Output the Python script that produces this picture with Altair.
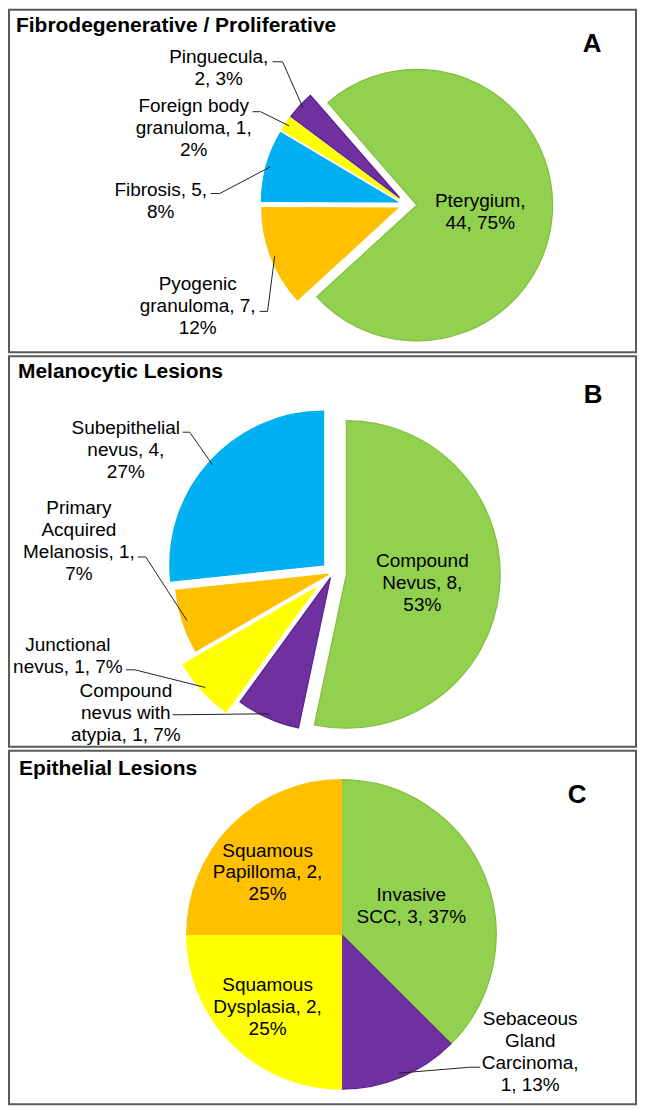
import altair as alt
import pandas as pd

# ---------------- data ----------------
a_categories = ["Pterygium", "Pyogenic granuloma", "Fibrosis", "Foreign body granuloma", "Pinguecula"]
a_counts = [44, 7, 5, 1, 2]
a_labels = ["Pterygium,\n44, 75%", "Pyogenic\ngranuloma, 7,\n12%", "Fibrosis, 5,\n8%",
            "Foreign body\ngranuloma, 1,\n2%", "Pinguecula,\n2, 3%"]

b_categories = ["Compound Nevus", "Compound nevus with atypia", "Junctional nevus",
                "Primary Acquired Melanosis", "Subepithelial nevus"]
b_counts = [8, 1, 1, 1, 4]
b_labels = ["Compound\nNevus, 8,\n53%", "Compound\nnevus with\natypia, 1, 7%", "Junctional\nnevus, 1, 7%",
            "Primary\nAcquired\nMelanosis, 1,\n7%", "Subepithelial\nnevus, 4,\n27%"]

c_categories = ["Invasive SCC", "Sebaceous Gland Carcinoma", "Squamous Dysplasia", "Squamous Papilloma"]
c_counts = [3, 1, 2, 2]
c_labels = ["Invasive\nSCC, 3, 37%", "Sebaceous\nGland\nCarcinoma,\n1, 13%", "Squamous\nDysplasia, 2,\n25%",
            "Squamous\nPapilloma, 2,\n25%"]

# ---------------- style / layout ----------------
FONT = "Liberation Sans, Arial, sans-serif"
FILLS = {"green": "#92D050", "orange": "#FFC000", "blue": "#00B0F0", "yellow": "#FFFF00", "purple": "#7030A0"}
STROKES = {"green": "#7fbf3a", "orange": "#FFC000", "blue": "#00B0F0", "yellow": "#FFFF00", "purple": "#58238a"}
W = 628
LH = 22

layout_A = dict(
    title="Fibrodegenerative / Proliferative", title_xy=(7, 16), letter="A", letter_xy=(584, 34),
    height=343, center=(398.5, 195), radius=136, start_deg=319,
    colors=["green", "orange", "blue", "yellow", "purple"], explode=[10, 10, 10, 10, 10],
    label_xy=[(472, 202), (189, 297), (152, 191), (185, 118), (210, 58)],
    leader=[None, (251, 302, 8), (202, 184, 9), (244, 102, 8), (264, 52, 10)],
)
layout_B = dict(
    title="Melanocytic Lesions", title_xy=(9, 16), letter="B", letter_xy=(585, 39),
    height=391, center=(324, 217), radius=154, start_deg=0,
    colors=["green", "purple", "yellow", "orange", "blue"], explode=[14, 5, 22, 4, 12],
    label_xy=[(414, 227), (117, 357), (59, 300), (70, 185), (117, 94)],
    leader=[None, (164, 359, 7), (117, 314, 9), (129, 201, 8), (174, 76, 7)],
)
layout_C = dict(
    title="Epithelial Lesions", title_xy=(10, 18), letter="C", letter_xy=(569, 44),
    height=354, center=(333, 184), radius=155, start_deg=0,
    colors=["green", "purple", "yellow", "orange"], explode=[0, 0, 0, 0],
    label_xy=[(403, 156), (522, 302), (259, 257), (259, 122)],
    leader=[None, (472, 317, -10), None, None],
)


def pie_panel(cats, counts, labels, L):
    n = len(cats)
    H = L["height"]
    cx, cy = L["center"]
    R = L["radius"]
    st = L["start_deg"]
    df = pd.DataFrame({
        "order": list(range(n)),
        "category": cats,
        "value": counts,
        "label": labels,
        "nlines": [lab.count("\n") + 1 for lab in labels],
        "fill": [FILLS[c] for c in L["colors"]],
        "stroke": [STROKES[c] for c in L["colors"]],
        "explode": L["explode"],
        "lx": [p[0] for p in L["label_xy"]],
        "ly": [p[1] for p in L["label_xy"]],
        "has_leader": [l is not None for l in L["leader"]],
        "sx": [l[0] if l else 0 for l in L["leader"]],
        "sy": [l[1] if l else 0 for l in L["leader"]],
        "elbow": [l[2] if l else 0 for l in L["leader"]],
    })
    xs = alt.Scale(domain=[0, W], nice=False, zero=False)
    ys = alt.Scale(domain=[0, H], reverse=True, nice=False, zero=False)

    base = (
        alt.Chart(df)
        .transform_joinaggregate(total="sum(value)")
        .transform_window(cum="sum(value)", sort=[alt.SortField("order", order="ascending")], frame=[None, 0])
        .transform_calculate(t1=f"{st}*PI/180 + 2*PI*datum.cum/datum.total")
        .transform_calculate(t0="datum.t1 - 2*PI*datum.value/datum.total")
        .transform_calculate(mid="(datum.t0 + datum.t1)/2")
        .transform_calculate(ex=f"{cx} + datum.explode*sin(datum.mid)")
        .transform_calculate(ey=f"{cy} - datum.explode*cos(datum.mid)")
        .transform_calculate(edx=f"datum.ex + {R}*0.97*sin(datum.mid)")
        .transform_calculate(edy=f"datum.ey - {R}*0.97*cos(datum.mid)")
        .transform_calculate(bx="datum.sx + datum.elbow")
        .transform_calculate(ly0=f"datum.ly - (datum.nlines - 1)*{LH}/2")
    )

    arcs = base.mark_arc(radius=R, strokeWidth=1.2).encode(
        x=alt.X("ex:Q", scale=xs, axis=None),
        y=alt.Y("ey:Q", scale=ys, axis=None),
        theta=alt.Theta("t0:Q", scale=None, stack=None),
        theta2=alt.Theta2("t1:Q"),
        fill=alt.Fill("fill:N", scale=None, legend=None),
        stroke=alt.Stroke("stroke:N", scale=None, legend=None),
    )

    lead = base.transform_filter("datum.has_leader")
    rule1 = lead.mark_rule(color="#222222", strokeWidth=1).encode(
        x=alt.X("sx:Q", scale=xs, axis=None),
        y=alt.Y("sy:Q", scale=ys, axis=None),
        x2=alt.X2("bx:Q"),
        y2=alt.Y2("sy:Q"),
    )
    rule2 = lead.mark_rule(color="#222222", strokeWidth=1).encode(
        x=alt.X("bx:Q", scale=xs, axis=None),
        y=alt.Y("sy:Q", scale=ys, axis=None),
        x2=alt.X2("edx:Q"),
        y2=alt.Y2("edy:Q"),
    )

    texts = base.mark_text(
        lineBreak="\n", font=FONT, fontSize=19, lineHeight=LH, align="center", baseline="middle", color="black"
    ).encode(
        x=alt.X("lx:Q", scale=xs, axis=None),
        y=alt.Y("ly0:Q", scale=ys, axis=None),
        text=alt.Text("label:N"),
    )

    title = alt.Chart(alt.Data(values=[{"t": L["title"]}])).mark_text(
        font=FONT, fontSize=21, fontWeight="bold", align="left", baseline="middle", color="black"
    ).encode(x=alt.value(L["title_xy"][0]), y=alt.value(L["title_xy"][1]), text="t:N")

    letter = alt.Chart(alt.Data(values=[{"t": L["letter"]}])).mark_text(
        font=FONT, fontSize=26, fontWeight="bold", align="center", baseline="middle", color="black"
    ).encode(x=alt.value(L["letter_xy"][0]), y=alt.value(L["letter_xy"][1]), text="t:N")

    return alt.layer(arcs, rule1, rule2, texts, title, letter).properties(width=W, height=H)


pA = pie_panel(a_categories, a_counts, a_labels, layout_A)
pB = pie_panel(b_categories, b_counts, b_labels, layout_B)
pC = pie_panel(c_categories, c_counts, c_labels, layout_C)

chart = (
    alt.vconcat(pA, pB, pC, spacing=2)
    .properties(padding=0, background="white")
    .configure_view(stroke="#5a5a5a", strokeWidth=2)
)

chart.save("out.html", embed_options={"renderer": "svg", "actions": False})
